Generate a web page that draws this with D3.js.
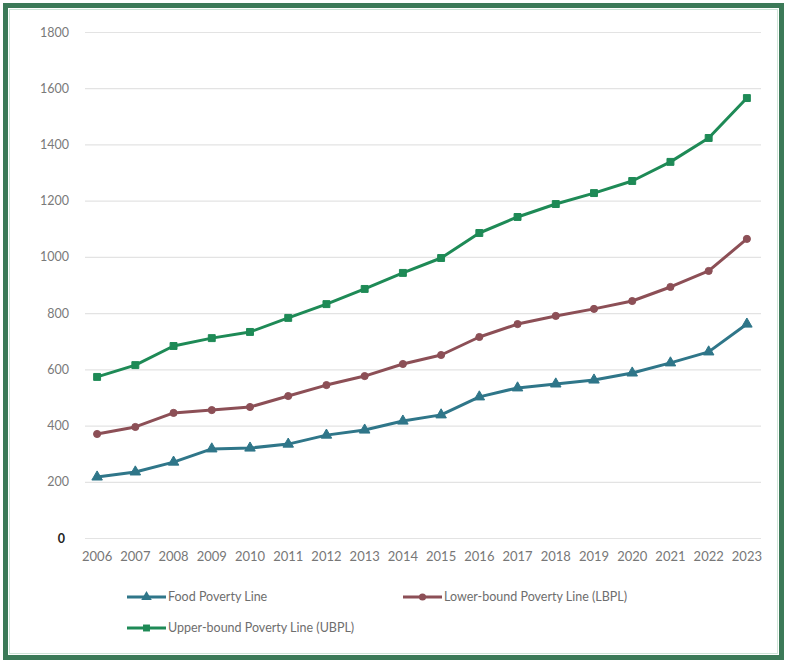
<!DOCTYPE html>
<html>
<head>
<meta charset="utf-8">
<script src="https://cdn.jsdelivr.net/npm/d3@7"></script>
<style>
  html, body { margin: 0; padding: 0; background: #fff; }
  svg { display: block; }
  text { font-family: Lato, "Open Sans", sans-serif; }
</style>
</head>
<body>
<svg id="chart" width="790" height="666"></svg>
<script>
// Poverty line thresholds by year
const years = ["2006","2007","2008","2009","2010","2011","2012","2013","2014","2015",
               "2016","2017","2018","2019","2020","2021","2022","2023"];
const foodLine  = [217, 235, 270, 317, 320, 334, 366, 384, 416, 438, 502, 534, 548, 562, 587, 623, 662, 761];
const lowerLine = [370, 395, 445, 455, 466, 505, 544, 576, 619, 651, 715, 761, 790, 815, 843, 893, 950, 1064];
const upperLine = [573, 615, 683, 711, 733, 783, 832, 886, 943, 996, 1085, 1142, 1188, 1227, 1270, 1338, 1423, 1565];
const yTicks = [0, 200, 400, 600, 800, 1000, 1200, 1400, 1600, 1800];

const series = [
  { name: "Food Poverty Line", values: foodLine, color: "#2f7689", symbol: d3.symbolTriangle, size: 48 },
  { name: "Lower-bound Poverty Line (LBPL)", values: lowerLine, color: "#8c4f56", symbol: d3.symbolCircle, size: 40 },
  { name: "Upper-bound Poverty Line (UBPL)", values: upperLine, color: "#1e8a56", symbol: d3.symbolSquare, size: 48 }
];

const svg = d3.select("#chart");

// outer frame
svg.append("rect")
  .attr("x", 5.5).attr("y", 5.5).attr("width", 776).attr("height", 652)
  .attr("fill", "#fff").attr("stroke", "#3c7a58").attr("stroke-width", 5);
svg.append("rect")
  .attr("x", 9.5).attr("y", 9.5).attr("width", 768).attr("height", 644)
  .attr("fill", "none").attr("stroke", "#cfe5d8").attr("stroke-width", 1);

const plot = { left: 78, right: 766, top: 32, bottom: 538 };

const x = d3.scaleBand().domain(years).range([plot.left, plot.right]);
const y = d3.scaleLinear().domain([0, 1800]).range([plot.bottom, plot.top]);
const cx = d => x(d) + x.bandwidth() / 2;

// gridlines + y labels
const yAxis = d3.axisLeft(y).tickValues(yTicks).tickFormat(d3.format("d"))
  .tickSize(-(plot.right - plot.left - 12)).tickPadding(16);
const gy = svg.append("g").attr("transform", `translate(${plot.left + 7},0)`).call(yAxis);
gy.select(".domain").remove();
gy.selectAll(".tick line").attr("stroke", "#e3e3e3").attr("stroke-width", 1.2);
gy.selectAll(".tick text").attr("fill", "#7a7a7a").attr("font-size", 12.5);
gy.selectAll(".tick").filter(d => d === 0).select("text")
  .attr("fill", "#222").attr("dx", -4).attr("font-weight", "bold");

// x labels
const xAxis = d3.axisBottom(x).tickSize(0).tickPadding(14);
const gx = svg.append("g").attr("transform", `translate(0,${plot.bottom})`).call(xAxis);
gx.select(".domain").remove();
gx.selectAll(".tick text").attr("fill", "#777").attr("font-size", 13);

const line = d3.line().x((d, i) => cx(years[i])).y(d => y(d));

series.forEach(s => {
  svg.append("path")
    .datum(s.values)
    .attr("fill", "none")
    .attr("stroke", s.color)
    .attr("stroke-width", 3)
    .attr("stroke-linejoin", "round")
    .attr("d", line);
  svg.append("g").selectAll("path")
    .data(s.values)
    .join("path")
    .attr("transform", (d, i) => `translate(${cx(years[i])},${y(d)})`)
    .attr("d", d3.symbol().type(s.symbol).size(s.size))
    .attr("fill", s.color)
    .attr("stroke", s.color)
    .attr("stroke-width", 1);
});

// legend
const legendPos = [
  { x: 127, y: 597 },
  { x: 403, y: 597 },
  { x: 127, y: 628 }
];
series.forEach((s, i) => {
  const p = legendPos[i];
  const g = svg.append("g").attr("transform", `translate(${p.x},${p.y})`);
  g.append("line").attr("x1", 0).attr("x2", 39).attr("y1", 0).attr("y2", 0)
    .attr("stroke", s.color).attr("stroke-width", 3);
  g.append("path").attr("transform", "translate(19.5,0)")
    .attr("d", d3.symbol().type(s.symbol).size(s.size)).attr("fill", s.color);
  g.append("text").attr("x", 41).attr("y", 0).attr("dy", "0.35em")
    .attr("fill", "#6e6e6e").attr("font-size", 12.5).text(s.name);
});
</script>
</body>
</html>
